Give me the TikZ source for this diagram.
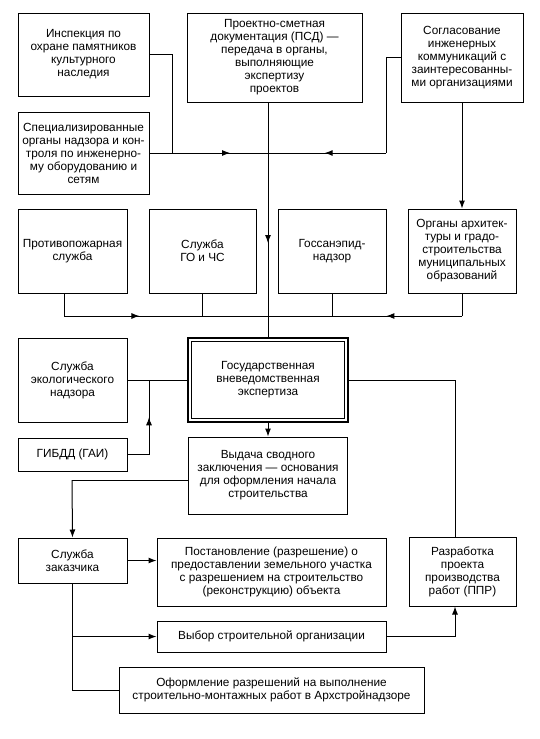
\documentclass[tikz,border=0pt]{standalone}
\usepackage{fontspec}
\setmainfont{Liberation Sans}
\usetikzlibrary{arrows.meta,decorations.markings}
\begin{document}
\begin{tikzpicture}[x=1pt,y=-1pt,
  every node/.style={font=\fontsize{11.8}{13}\selectfont},
  box/.style={draw,line width=1pt,align=center,inner sep=0pt},
  ln/.style={line width=1pt},
  arr/.style={ln,-{Latex[length=8pt,width=6pt]}},
  midarr/.style={ln,postaction={decorate},decoration={markings,mark=at position #1 with {\arrow{Latex[length=8pt,width=6pt]}}}}]
\useasboundingbox (0,0) rectangle (539,739);
% nodes
\node[box,minimum width=131pt,minimum height=83pt] (insp) at (83.5,54.5) {Инспекция по\\охране памятников\\культурного\\наследия};
\node[box,minimum width=131pt,minimum height=82pt] (spec) at (83.5,153) {Специализированные\\органы надзора и кон-\\троля по инженерно-\\му оборудованию и\\сетям};
\node[box,minimum width=175pt,minimum height=89pt] (psd) at (274.5,57.5) {Проектно-сметная\\документация (ПСД) —\\передача в органы,\\выполняющие\\экспертизу\\проектов};
\node[box,minimum width=122pt,minimum height=89pt] (sogl) at (462,57.5) {Согласование\\инженерных\\коммуникаций с\\заинтересованны-\\ми организациями};
\node[box,minimum width=109pt,minimum height=84pt] (fire) at (72.5,251) {Противопожарная\\служба};
\node[box,minimum width=107pt,minimum height=84pt] (go) at (202.5,251) {Служба\\ГО и ЧС};
\node[box,minimum width=108pt,minimum height=84pt] (gse) at (332,251) {Госсанэпид-\\надзор};
\node[box,minimum width=108pt,minimum height=84pt] (arch) at (462,251) {Органы архитек-\\туры и градо-\\строительства\\муниципальных\\образований};
\node[box,minimum width=109pt,minimum height=84pt] (eco) at (72.5,380) {Служба\\экологического\\надзора};
\node[box,minimum width=109pt,minimum height=33pt] (gibdd) at (72.5,454.5) {ГИБДД (ГАИ)};
\node[box,line width=1.8pt,minimum width=160pt,minimum height=84pt] (gos) at (268,380) {Государственная\\вневедомственная\\экспертиза};
\draw[line width=1pt] ([shift={(4.5pt,-4.5pt)}]gos.north west) rectangle ([shift={(-4.5pt,4.5pt)}]gos.south east);
\node[box,minimum width=159pt,minimum height=77pt] (vyd) at (268,475.5) {Выдача сводного\\заключения — основания\\для оформления начала\\строительства};
\node[box,minimum width=109pt,minimum height=45pt] (zak) at (72.5,560.5) {Служба\\заказчика};
\node[box,minimum width=229pt,minimum height=68pt] (post) at (271.5,572) {Постановление (разрешение) о\\предоставлении земельного участка\\с разрешением на строительство\\(реконструкцию) объекта};
\node[box,minimum width=107pt,minimum height=69pt] (razr) at (462.5,571.5) {Разработка\\проекта\\производства\\работ (ППР)};
\node[box,minimum width=229pt,minimum height=31pt] (vybor) at (271.5,636.5) {Выбор строительной организации};
\node[box,minimum width=305pt,minimum height=46pt] (oform) at (271.5,690) {Оформление разрешений на выполнение\\строительно-монтажных работ в Архстройнадзоре};
% coordinates
\coordinate (m0) at (268,102);
\coordinate (j1) at (172,153);
\coordinate (jm) at (268,153);
\coordinate (j2) at (386,153);
\coordinate (b1) at (64,316);
\coordinate (bm) at (268,316);
\coordinate (b2) at (462,316);
\coordinate (g1) at (149,454.5);
\coordinate (g2) at (149,380);
\coordinate (r1) at (455,380);
\coordinate (z1) at (72,480);
% connectors
\draw[ln] (insp.east) -| (j1);
\draw[midarr=0.68] (spec.east) -- (jm);
\draw[ln] (sogl.west) -| (j2);
\draw[midarr=0.52] (j2) -- (jm);
\draw[midarr=0.6] (m0) -- (gos.north);
\draw[arr] (sogl.south) -- (arch.north);
\draw[ln] (fire.south -| b1) -- (b1);
\draw[midarr=0.37] (b1) -- (bm);
\draw[ln] (go.south) -- (go.south |- b1);
\draw[ln] (arch.south) -- (b2);
\draw[midarr=0.39] (b2) -- (bm);
\draw[ln] (gse.south) -- (gse.south |- b2);
\draw[ln] (eco.east) -- (gos.west);
\draw[ln] (gibdd.east) -- (g1);
\draw[midarr=0.5] (g1) -- (g2);
\draw[arr] (gos.south) -- (vyd.north);
\draw[ln] (gos.east) -- (r1) -- (razr.north -| r1);
\draw[ln] (vyd.west |- z1) -- (z1);
\draw[arr] (z1) -- (zak.north);
\draw[arr] (zak.east) -- (zak.east -| post.west);
\draw[ln] (zak.south) |- (oform.west);
\draw[arr] (zak.south |- vybor.west) -- (vybor.west);
\draw[arr] (vybor.east) -| (razr.south -| r1);
\end{tikzpicture}
\end{document}
